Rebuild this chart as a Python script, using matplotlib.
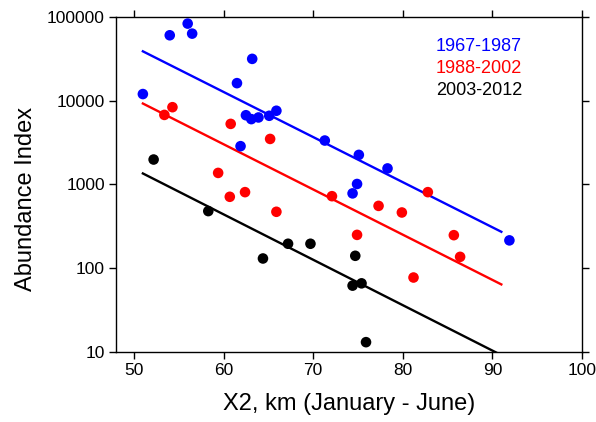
import numpy as np
import matplotlib
matplotlib.use("Agg")
import matplotlib.pyplot as plt

plt.rcParams["font.family"] = ["Liberation Sans", "DejaVu Sans"]

# 1967-1987
x_blue = [51.0, 54.0, 56.0, 56.5, 61.5, 61.9, 62.5, 63.1, 63.2, 63.9, 65.1, 65.9,
          71.3, 74.4, 74.9, 75.1, 78.3, 91.9]
y_blue = [12000, 60500, 83400, 63300, 16200, 2860, 6700, 6020, 31600, 6300, 6600, 7580,
          3340, 780, 1010, 2250, 1550, 214]
# 1988-2002
x_red = [53.4, 54.3, 59.4, 60.7, 60.8, 62.4, 65.2, 65.9, 72.1, 74.9, 77.3, 79.9,
         81.2, 82.8, 85.7, 86.4]
y_red = [6760, 8360, 1370, 710, 5280, 807, 3490, 470, 722, 249, 553, 461,
         77, 807, 247, 136]
# 2003-2012
x_black = [52.2, 58.3, 64.4, 67.2, 69.7, 74.4, 74.7, 75.4, 75.9]
y_black = [1980, 479, 130, 195, 195, 61.6, 140, 65.6, 13]

# fitted lines (end points)
fit_x = [51.0, 91.0]
fit_blue = [38900, 271]
fit_red = [9250, 63.7]
fit_black = [1350, 9.1]

labels = ["1967-1987", "1988-2002", "2003-2012"]
colors = ["#0000ff", "#ff0000", "#000000"]

fig = plt.figure(figsize=(5.96, 4.22), dpi=100)
ax = fig.add_axes([0.1946, 0.1666, 0.7819, 0.7931])

series = [(x_blue, y_blue, fit_blue), (x_red, y_red, fit_red), (x_black, y_black, fit_black)]
for (xs, ys, fit), c in zip(series, colors):
    ax.plot(fit_x, fit, color=c, lw=1.7, zorder=2)
    ax.scatter(xs, ys, s=58, color=c, edgecolors="none", zorder=3, clip_on=False)

ax.set_yscale("log")
ax.set_xlim(48, 100)
ax.set_ylim(10, 100000)
ax.set_xticks([50, 60, 70, 80, 90, 100])
ax.set_yticks([10, 100, 1000, 10000, 100000])
ax.set_yticklabels(["10", "100", "1000", "10000", "100000"])
ax.minorticks_off()
ax.tick_params(which="major", direction="out", length=5, width=1, labelsize=12.5,
               top=True, right=True, pad=3)
for s in ax.spines.values():
    s.set_linewidth(1)

ax.set_xlabel("X2, km (January - June)", fontsize=17)
ax.set_ylabel("Abundance Index", fontsize=17)
ax.xaxis.set_label_coords(0.5, -0.122)
ax.yaxis.set_label_coords(-0.170, 0.456)

ys_txt = [0.911, 0.845, 0.780]
for lab, c, yt in zip(labels, colors, ys_txt):
    ax.text(0.871, yt, lab, color=c, fontsize=13, ha="right", va="center",
            transform=ax.transAxes)

fig.savefig("out.png", dpi=100)
